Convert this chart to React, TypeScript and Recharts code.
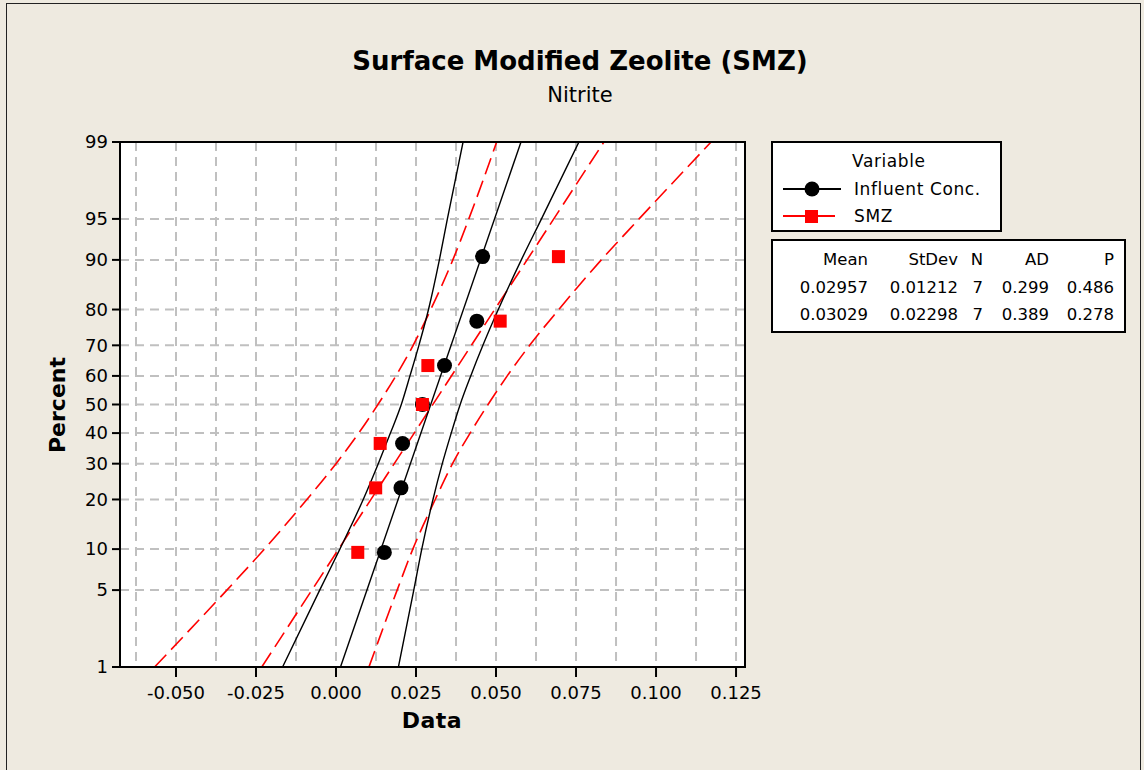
import { ComposedChart, Line, Scatter, XAxis, YAxis, CartesianGrid } from 'recharts';

// percent levels of the probability axis (also the levels where the CI curves were read)
const percentTicks = [1, 5, 10, 20, 30, 40, 50, 60, 70, 80, 90, 95, 99];
const xTickValues = [-0.05, -0.025, 0, 0.025, 0.05, 0.075, 0.1, 0.125];
const xGridValues = [-0.0625, -0.05, -0.0375, -0.025, -0.0125, 0, 0.0125, 0.025, 0.0375, 0.05, 0.0625, 0.075, 0.0875, 0.1, 0.1125, 0.125];

// plotted points
const plotPercents = [9.5, 23.0, 36.5, 50, 63.5, 77.0, 90.5];
const influentValues = [0.0151, 0.0203, 0.0208, 0.027, 0.0339, 0.044, 0.0458];
const smzValues = [0.0068, 0.0124, 0.0138, 0.027, 0.0287, 0.0513, 0.0695];

// fitted lines (ends at 1% and 99%)
const fitPercents = [1, 99];
const influentFit = [0.0014, 0.0578];
const smzFit = [-0.0232, 0.0837];

// confidence bands, read at each percentTicks level
const influentLower = [-0.0167, -0.0051, 0.0012, 0.0085, 0.0132, 0.017, 0.0204, 0.0231, 0.0259, 0.0289, 0.0323, 0.0348, 0.0397];
const influentUpper = [0.0195, 0.0243, 0.0268, 0.0303, 0.0332, 0.036, 0.0388, 0.0421, 0.0459, 0.0507, 0.0579, 0.0642, 0.0759];
const smzLower = [-0.0567, -0.0341, -0.0224, -0.0091, 0.0, 0.0071, 0.0131, 0.0187, 0.0241, 0.0296, 0.0365, 0.0415, 0.0502];
const smzUpper = [0.0103, 0.0191, 0.024, 0.031, 0.0364, 0.0419, 0.0475, 0.0535, 0.0605, 0.0696, 0.0829, 0.0947, 0.1172];

const statsHeader = ['Mean', 'StDev', 'N', 'AD', 'P'];
const statsInfluent = ['0.02957', '0.01212', '7', '0.299', '0.486'];
const statsSmz = ['0.03029', '0.02298', '7', '0.389', '0.278'];

// inverse standard normal (Acklam)
function probit(p: number) {
  const a = [-39.69683028665376, 220.9460984245205, -275.9285104469687, 138.357751867269, -30.66479806614716, 2.506628277459239];
  const b = [-54.47609879822406, 161.5858368580409, -155.6989798598866, 66.80131188771972, -13.28068155288572];
  const c = [-0.007784894002430293, -0.3223964580411365, -2.400758277161838, -2.549732539343734, 4.374664141464968, 2.938163982698783];
  const d = [0.007784695709041462, 0.3224671290700398, 2.445134137142996, 3.754408661907416];
  const pl = 0.02425;
  if (p < pl) {
    const q = Math.sqrt(-2 * Math.log(p));
    return (((((c[0] * q + c[1]) * q + c[2]) * q + c[3]) * q + c[4]) * q + c[5]) / ((((d[0] * q + d[1]) * q + d[2]) * q + d[3]) * q + 1);
  }
  if (p > 1 - pl) {
    const q = Math.sqrt(-2 * Math.log(1 - p));
    return -(((((c[0] * q + c[1]) * q + c[2]) * q + c[3]) * q + c[4]) * q + c[5]) / ((((d[0] * q + d[1]) * q + d[2]) * q + d[3]) * q + 1);
  }
  const q = p - 0.5;
  const r = q * q;
  return (((((a[0] * r + a[1]) * r + a[2]) * r + a[3]) * r + a[4]) * r + a[5]) * q / (((((b[0] * r + b[1]) * r + b[2]) * r + b[3]) * r + b[4]) * r + 1);
}

const zOf = (pct: number) => probit(pct / 100);
const yTicks = percentTicks.map(zOf);
const toSeries = (pcts: number[], xs: number[]) => pcts.map((p, i) => ({ x: xs[i], z: zOf(p) }));

const influentPts = toSeries(plotPercents, influentValues);
const smzPts = toSeries(plotPercents, smzValues);

const fmtPercent = (z: number) => {
  let best = 0;
  yTicks.forEach((t, i) => { if (Math.abs(t - z) < Math.abs(yTicks[best] - z)) best = i; });
  return String(percentTicks[best]);
};
const fmtX = (v: number) => v.toFixed(3);

const FONT = '"DejaVu Sans", sans-serif';
const BG = '#EEEAE0';

const Dot = (props: any) => <circle cx={props.cx} cy={props.cy} r={7.5} fill="#000" />;
const Sq = (props: any) => <rect x={props.cx - 6.5} y={props.cy - 6.5} width={13} height={13} fill="#FF0000" />;

const tickStyle = { fill: '#000', fontSize: 18, fontFamily: FONT };

export default function App() {
  return (
    <div style={{ position: 'relative', width: 1144, height: 770, background: BG, overflow: 'hidden', fontFamily: FONT, color: '#000' }}>
      <style>{'body{margin:0}'}</style>
      <div style={{ position: 'absolute', left: 6, top: 3, width: 1135, height: 800, border: '1px solid #222', boxSizing: 'border-box' }} />
      <div style={{ position: 'absolute', left: 120, top: 142, width: 625, height: 525, background: '#fff' }} />

      <div style={{ position: 'absolute', left: 0, top: 0 }}>
        <ComposedChart width={1144} height={770} margin={{ top: 142, right: 399, bottom: 43, left: 50 }}>
          <CartesianGrid stroke="#C0C0C0" strokeWidth={2} strokeDasharray="9 6" verticalValues={xGridValues} />
          <XAxis
            type="number"
            dataKey="x"
            domain={[-0.0675, 0.1278]}
            allowDataOverflow
            ticks={xTickValues}
            tickFormatter={fmtX}
            height={60}
            tickSize={10}
            tickMargin={9}
            axisLine={false}
            tickLine={{ stroke: '#000', strokeWidth: 2 }}
            tick={tickStyle}
            interval={0}
          />
          <YAxis
            type="number"
            dataKey="z"
            domain={[zOf(1), zOf(99)]}
            allowDataOverflow
            ticks={yTicks}
            tickFormatter={fmtPercent}
            width={70}
            tickSize={8}
            tickMargin={4}
            axisLine={false}
            tickLine={{ stroke: '#000', strokeWidth: 2 }}
            tick={tickStyle}
            interval={0}
          />
          <Line data={toSeries(percentTicks, smzLower)} dataKey="z" type="monotone" stroke="#FF0000" strokeWidth={1.6} strokeDasharray="17 7" dot={false} isAnimationActive={false} />
          <Line data={toSeries(percentTicks, smzUpper)} dataKey="z" type="monotone" stroke="#FF0000" strokeWidth={1.6} strokeDasharray="17 7" dot={false} isAnimationActive={false} />
          <Line data={toSeries(fitPercents, smzFit)} dataKey="z" type="linear" stroke="#FF0000" strokeWidth={1.6} strokeDasharray="17 7" dot={false} isAnimationActive={false} />
          <Line data={toSeries(percentTicks, influentLower)} dataKey="z" type="monotone" stroke="#000" strokeWidth={1.4} dot={false} isAnimationActive={false} />
          <Line data={toSeries(percentTicks, influentUpper)} dataKey="z" type="monotone" stroke="#000" strokeWidth={1.4} dot={false} isAnimationActive={false} />
          <Line data={toSeries(fitPercents, influentFit)} dataKey="z" type="linear" stroke="#000" strokeWidth={1.4} dot={false} isAnimationActive={false} />
          <Scatter data={influentPts} shape={Dot} isAnimationActive={false} />
          <Scatter data={smzPts} shape={Sq} isAnimationActive={false} />
        </ComposedChart>
      </div>

      {/* plot frame */}
      <div style={{ position: 'absolute', left: 119, top: 141, width: 627, height: 527, border: '2px solid #000', boxSizing: 'border-box', pointerEvents: 'none' }} />

      {/* titles */}
      <div style={{ position: 'absolute', left: 0, width: 1160, top: 46, textAlign: 'center', fontSize: 26, fontWeight: 'bold' }}>Surface Modified Zeolite (SMZ)</div>
      <div style={{ position: 'absolute', left: 0, width: 1160, top: 83, textAlign: 'center', fontSize: 21 }}>Nitrite</div>
      <div style={{ position: 'absolute', left: 332, width: 200, top: 708, textAlign: 'center', fontSize: 22, fontWeight: 'bold', letterSpacing: 0.5 }}>Data</div>
      <div style={{ position: 'absolute', left: 57, top: 405, transform: 'translate(-50%, -50%) rotate(-90deg)', fontSize: 22, fontWeight: 'bold', whiteSpace: 'nowrap' }}>Percent</div>

      {/* legend */}
      <div style={{ position: 'absolute', left: 771, top: 141, width: 231, height: 91, border: '2px solid #000', boxSizing: 'border-box', background: '#fff', fontSize: 17, letterSpacing: 0.6 }}>
        <div style={{ position: 'absolute', left: 79, top: 8 }}>Variable</div>
        <svg style={{ position: 'absolute', left: 8, top: 37 }} width={62} height={18}>
          <line x1={2} y1={9} x2={60} y2={9} stroke="#000" strokeWidth={2} />
          <circle cx={31} cy={9} r={7.5} fill="#000" />
        </svg>
        <div style={{ position: 'absolute', left: 81, top: 36 }}>Influent Conc.</div>
        <svg style={{ position: 'absolute', left: 8, top: 64 }} width={62} height={18}>
          <line x1={2} y1={9} x2={54} y2={9} stroke="#FF0000" strokeWidth={2} />
          <rect x={24} y={3} width={13} height={13} fill="#FF0000" />
        </svg>
        <div style={{ position: 'absolute', left: 81, top: 63 }}>SMZ</div>
      </div>

      {/* stats table */}
      <div style={{ position: 'absolute', left: 771, top: 239, width: 355, height: 94, border: '2px solid #000', boxSizing: 'border-box', background: '#fff', fontSize: 16.5 }}>
        {[statsHeader, statsInfluent, statsSmz].map((row, r) => (
          <div key={r} style={{ position: 'absolute', top: 9 + r * 27.5, left: 0, width: 355, height: 22 }}>
            {row.map((cell, c) => (
              <div key={c} style={{ position: 'absolute', right: 355 - [95, 185, 210, 276, 341][c], whiteSpace: 'nowrap' }}>{cell}</div>
            ))}
          </div>
        ))}
      </div>
    </div>
  );
}
